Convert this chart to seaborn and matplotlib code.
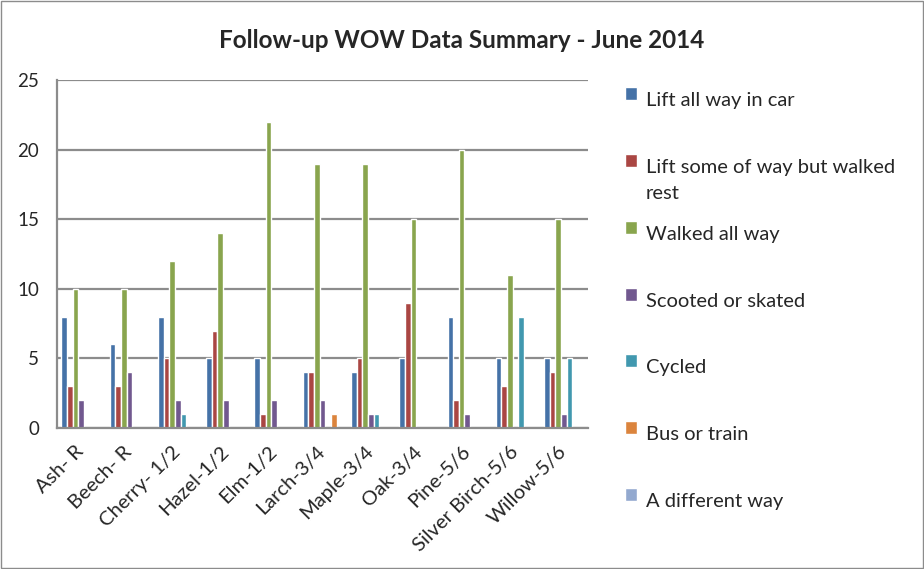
import matplotlib
matplotlib.use("Agg")
import matplotlib.pyplot as plt
import seaborn as sns
import pandas as pd
from matplotlib.patches import Rectangle
from matplotlib.legend_handler import HandlerPatch

categories = ["Ash- R", "Beech- R", "Cherry- 1/2", "Hazel-1/2", "Elm-1/2", "Larch-3/4",
              "Maple-3/4", "Oak-3/4", "Pine-5/6", "Silver Birch-5/6", "Willow-5/6"]
series_names = ["Lift all way in car", "Lift some of way but walked rest", "Walked all way",
                "Scooted or skated", "Cycled", "Bus or train", "A different way"]
lift_all = [8, 6, 8, 5, 5, 4, 4, 5, 8, 5, 5]
lift_some = [3, 3, 5, 7, 1, 4, 5, 9, 2, 3, 4]
walked = [10, 10, 12, 14, 22, 19, 19, 15, 20, 11, 15]
scooted = [2, 4, 2, 2, 2, 2, 1, 0, 1, 0, 1]
cycled = [0, 0, 1, 0, 0, 0, 1, 0, 0, 8, 5]
bus = [0, 0, 0, 0, 0, 1, 0, 0, 0, 0, 0]
different = [0, 0, 0, 0, 0, 0, 0, 0, 0, 0, 0]
yticks = [0, 5, 10, 15, 20, 25]

colors = ["#4572A7", "#AA4643", "#89A54E", "#71588F", "#4198AF", "#DB843D", "#93A9CF"]

all_vals = [lift_all, lift_some, walked, scooted, cycled, bus, different]
rows = []
for s, vals in zip(series_names, all_vals):
    for c, v in zip(categories, vals):
        rows.append({"School": c, "Mode": s, "Count": v})
df = pd.DataFrame(rows)

sns.set_style("white")
plt.rcParams["font.family"] = ["Lato", "DejaVu Sans"]

fig = plt.figure(figsize=(9.24, 5.69), dpi=100)
ax = fig.add_axes([57/924, 1-428/569, (588-57)/924, (428-80)/569])

sns.barplot(data=df, x="School", y="Count", hue="Mode", hue_order=series_names,
            order=categories, palette=colors, saturation=1, width=0.82, gap=0,
            ax=ax, legend=True)

ax.set_ylim(0, 25)
ax.set_xlim(-0.5, len(categories)-0.5)
ax.set_yticks(yticks)
ax.set_yticklabels([str(t) for t in yticks], fontsize=13.5)
ax.yaxis.grid(True, color="#8C8C8C", linewidth=1.6)
ax.set_axisbelow(True)
ax.set_xlabel("")
ax.set_ylabel("")
for side in ["top", "right"]:
    ax.spines[side].set_visible(False)
for side in ["left", "bottom"]:
    ax.spines[side].set_color("#8C8C8C")
    ax.spines[side].set_linewidth(1.6)

ax.set_xticks(range(len(categories)))
ax.set_xticklabels(categories, rotation=45, ha="right", va="center", rotation_mode="anchor",
                   fontsize=14.5)
ax.tick_params(axis="x", which="major", length=0, pad=15)
ax.set_xticks([i - 0.5 for i in range(len(categories)+1)], minor=True)
ax.tick_params(axis="x", which="minor", length=6, width=1.6, color="#8C8C8C", direction="out")
ax.tick_params(axis="y", length=5, width=1.6, color="#8C8C8C", direction="out", pad=8)

handles, labels = ax.get_legend_handles_labels()
ax.get_legend().remove()
leg_labels = ["Lift all way in car\n", "Lift some of way but walked\nrest", "Walked all way\n",
              "Scooted or skated\n", "Cycled\n", "Bus or train\n", "A different way\n"]

def square(legend, orig_handle, xdescent, ydescent, width, height, fontsize):
    return Rectangle((-xdescent, -ydescent + 0.98 * fontsize), width, height)

hm = {h: HandlerPatch(patch_func=square) for h in handles}
leg = fig.legend(handles, leg_labels, loc="upper left", bbox_to_anchor=(625/924, 1-92/569),
                 frameon=False, fontsize=14.5, handlelength=0.62, handleheight=0.62,
                 handletextpad=0.4, labelspacing=1.2, borderpad=0, borderaxespad=0,
                 handler_map=hm)
for t in leg.get_texts():
    t.set_linespacing(1.62)

fig.text(0.5, 1-40/569, "Follow-up WOW Data Summary - June 2014", ha="center", va="center",
         fontsize=17.5, fontweight="bold")

fig.patches.append(Rectangle((0.001, 0.001), 0.998, 0.998, transform=fig.transFigure,
                             fill=False, edgecolor="#8C8C8C", linewidth=1))

fig.savefig("out.png", dpi=100)
